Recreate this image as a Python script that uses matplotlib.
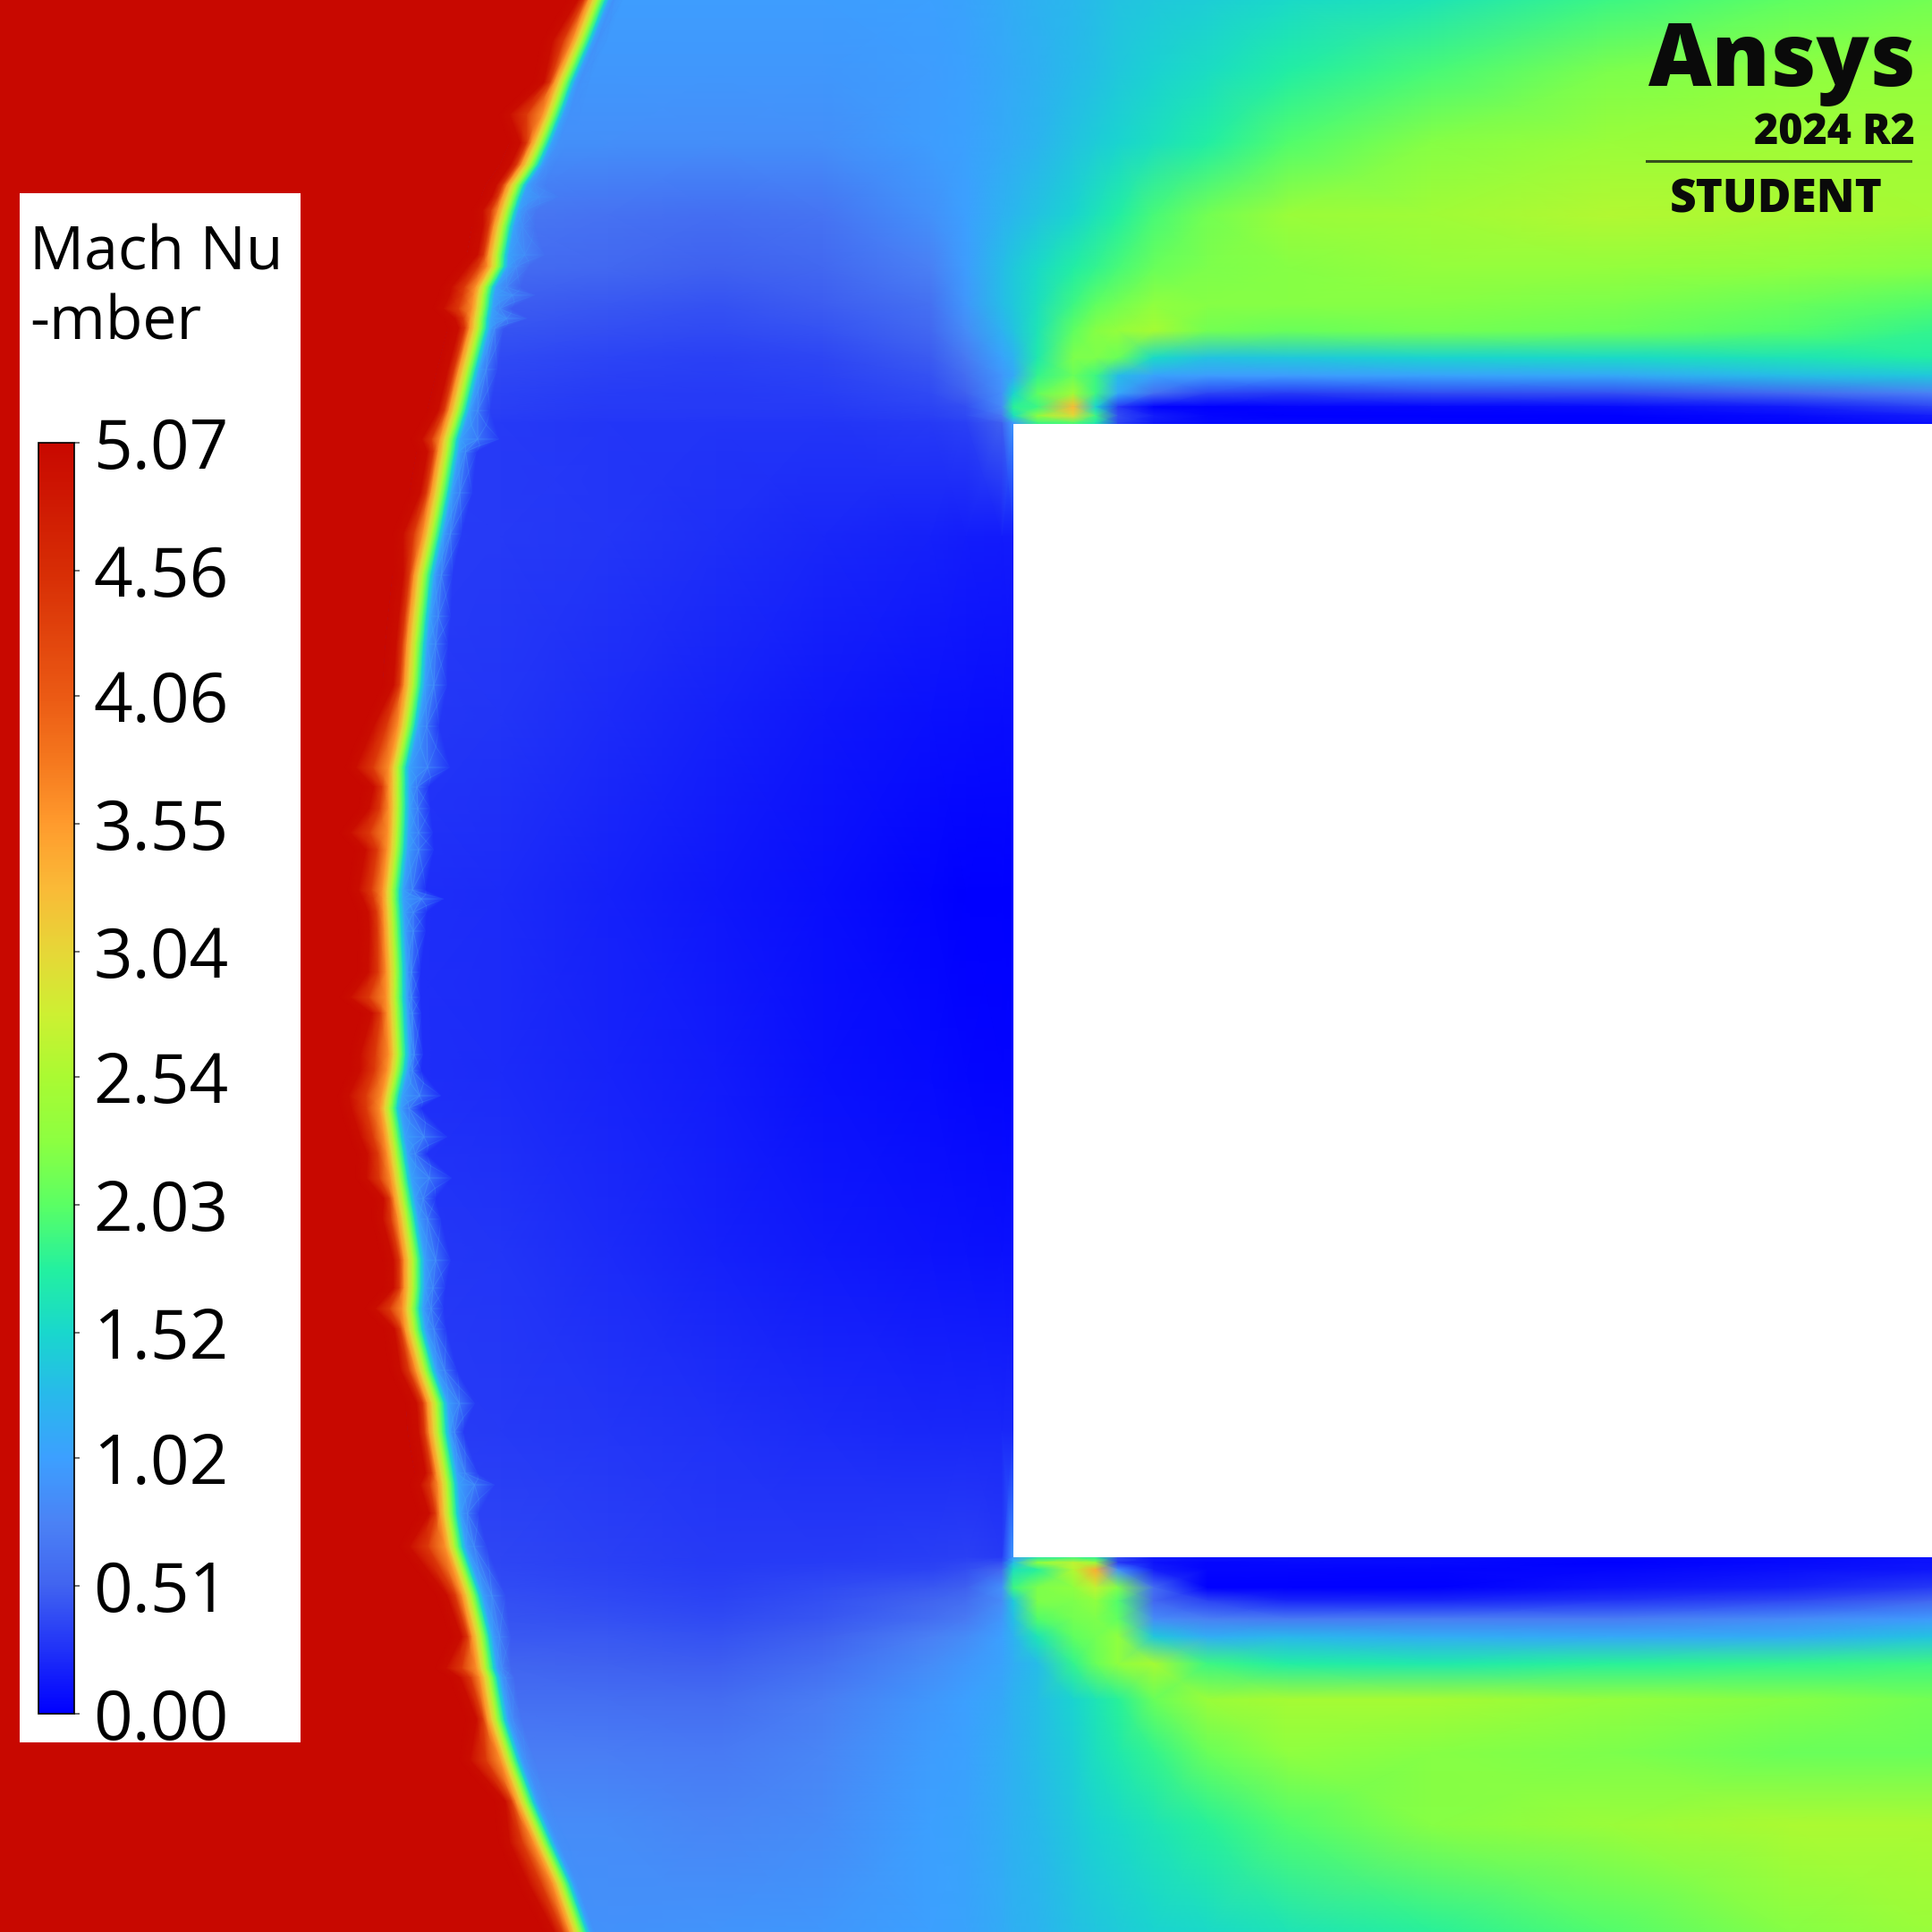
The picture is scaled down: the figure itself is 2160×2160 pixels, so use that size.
import numpy as np
import matplotlib
matplotlib.use("Agg")
import matplotlib.pyplot as plt
from matplotlib.colors import LinearSegmentedColormap, Normalize
from matplotlib.cm import ScalarMappable
from matplotlib.patches import Rectangle

plt.rcParams['font.family'] = ['Open Sans', 'DejaVu Sans']

# colour bar
mach_max = 5.07
tick_values = [5.07, 4.56, 4.06, 3.55, 3.04, 2.54, 2.03, 1.52, 1.02, 0.51, 0.00]
tick_labels = ["5.07", "4.56", "4.06", "3.55", "3.04", "2.54", "2.03", "1.52", "1.02", "0.51", "0.00"]
cmap_values = [0.00, 0.51, 0.76, 1.02, 1.27, 1.52, 1.77, 2.03, 2.28, 2.54, 2.79, 3.04, 3.30, 3.55, 3.80, 4.06, 4.56, 5.07]
cmap_colors = ["#0000ff", "#4164f0", "#4b82f5", "#3ca0ff", "#28b9eb", "#19d7cd", "#23f0a0", "#5aff64",
               "#8cff41", "#aafa32", "#cdf032", "#e6d737", "#fab937", "#ff9b2d", "#f5781e", "#eb5a14",
               "#d72d05", "#c80800"]

# field positions in image pixels
field_x = [400, 560, 680, 800, 920, 1040, 1080, 1120, 1133, 1160, 1200, 1225, 1250, 1290, 1350, 1440, 1600, 1800, 2000, 2160]
field_y = [0, 80, 160, 240, 300, 340, 370, 400, 420, 440, 455, 465, 473,
           600, 800, 1000, 1200, 1400, 1600,
           1741, 1747, 1755, 1775, 1790, 1810, 1830, 1860, 1900, 1960, 2040, 2160]
hidden = [0] * 11
mach = [
    [1.0, 1.0, 1.0, 1.0, 1.0, 1.02, 1.05, 1.12, 1.15, 1.2, 1.25, 1.3, 1.35, 1.4, 1.45, 1.55, 1.65, 1.9, 2.05, 2.15],
    [.95, .95, .95, .95, .95, 1.0, 1.03, 1.1, 1.13, 1.18, 1.28, 1.33, 1.4, 1.48, 1.58, 1.75, 1.95, 2.2, 2.3, 2.35],
    [.9, .9, .88, .87, .88, 1.0, 1.03, 1.12, 1.15, 1.22, 1.35, 1.43, 1.5, 1.6, 1.75, 2.0, 2.25, 2.4, 2.45, 2.45],
    [.7, .68, .63, .6, .65, .9, 1.02, 1.2, 1.25, 1.35, 1.5, 1.63, 1.75, 1.95, 2.15, 2.4, 2.45, 2.6, 2.55, 2.5],
    [.6, .58, .55, .5, .55, .75, 1.0, 1.3, 1.4, 1.55, 1.75, 1.85, 1.95, 2.1, 2.2, 2.25, 2.35, 2.35, 2.3, 2.25],
    [.5, .48, .45, .42, .48, .62, .95, 1.3, 1.4, 1.6, 1.9, 2.05, 2.15, 2.3, 2.25, 2.25, 2.25, 2.2, 2.1, 2.0],
    [.45, .43, .4, .38, .42, .55, .85, 1.2, 1.35, 1.65, 2.05, 2.25, 2.35, 2.5, 2.15, 2.1, 2.15, 2.1, 2.0, 1.85],
    [.4, .38, .35, .33, .36, .47, .7, 1.05, 1.2, 1.7, 2.2, 2.2, 2.1, 1.55, 1.35, 1.4, 1.5, 1.55, 1.65, 1.75],
    [.38, .36, .33, .32, .34, .42, .6, .95, 1.1, 1.85, 2.1, 1.9, 1.3, 1.05, 1.0, 1.0, 1.05, 1.1, 1.3, 1.4],
    [.36, .34, .31, .3, .32, .38, .5, .9, 1.5, 2.05, 2.45, 1.9, 1.1, .6, .35, .3, .38, .4, .55, .75],
    [.34, .33, .3, .3, .3, .35, .4, .85, 1.8, 1.9, 3.3, 1.5, .3, .02, 0, .02, .03, .05, .15, .35],
    [.33, .32, .29, .29, .29, .33, .38, .7, 1.6, 2.3, 3.0, 1.9, .4, .15, .03, 0, 0, 0, .05, .15],
    [.32, .3, .28, .27, .27, .3, .33, .5, 1.0, 1.9, 2.0, 1.7, .35, .12, .05, .05, .03, 0, .02, .08],
    [.32, .3, .28, .24, .2, .17, .15, .14, .14] + hidden,
    [.3, .27, .22, .17, .12, .08, .07, .06, .06] + hidden,
    [.25, .22, .17, .12, .07, .02, 0, 0, 0] + hidden,
    [.25, .22, .18, .14, .08, .05, .03, .02, .02] + hidden,
    [.3, .27, .22, .17, .13, .1, .09, .08, .08] + hidden,
    [.33, .3, .28, .25, .22, .2, .2, .2, .2] + hidden,
    [.38, .36, .33, .3, .3, .32, .33, .3, 1.0, 1.7, 1.9, 1.8, .4, .15, .1, .08, .05, .02, .05, .1],
    [.38, .36, .33, .3, .31, .33, .36, .4, 1.3, 2.3, 2.7, 2.4, .3, .1, .03, .05, .05, 0, .05, .1],
    [.39, .37, .34, .31, .33, .35, .4, .55, 1.6, 1.8, 2.6, 3.4, .9, .15, .03, .03, .02, .03, .08, .12],
    [.42, .39, .36, .33, .38, .45, .5, .9, 1.9, 2.2, 2.3, 2.7, 2.2, .6, 0, 0, 0, .1, .17, .3],
    [.44, .41, .38, .35, .41, .52, .6, .85, 1.4, 2.2, 2.2, 2.3, 2.0, .55, .35, .2, .2, .28, .38, .55],
    [.46, .43, .41, .38, .44, .6, .7, .95, 1.3, 2.0, 2.15, 2.2, 2.05, .85, .75, .7, .72, .72, .85, .98],
    [.48, .46, .45, .42, .5, .75, .85, 1.02, 1.2, 1.65, 2.05, 2.15, 2.3, 1.4, 1.15, 1.25, 1.15, 1.1, 1.15, 1.35],
    [.54, .52, .5, .48, .6, .85, .95, 1.05, 1.15, 1.3, 1.85, 2.1, 2.3, 2.5, 1.9, 1.75, 1.7, 1.8, 1.85, 1.9],
    [.63, .61, .6, .58, .72, .95, 1.02, 1.1, 1.2, 1.3, 1.5, 1.65, 1.8, 2.1, 2.4, 2.5, 2.5, 2.35, 2.25, 2.15],
    [.75, .73, .72, .7, .8, 1.0, 1.03, 1.15, 1.2, 1.3, 1.45, 1.6, 1.7, 1.85, 2.1, 2.3, 2.25, 2.2, 2.1, 2.1],
    [.87, .86, .85, .8, .85, 1.02, 1.05, 1.15, 1.2, 1.27, 1.4, 1.5, 1.55, 1.65, 1.8, 2.0, 2.25, 2.4, 2.55, 2.55],
    [.92, .92, .9, .92, .95, 1.02, 1.05, 1.13, 1.18, 1.22, 1.33, 1.38, 1.42, 1.5, 1.55, 1.65, 1.8, 2.0, 2.25, 2.4],
]

# bow shock, yellow-green centre line
shock_y = [0, 46, 92, 128, 160, 184, 207, 220, 235, 253, 285, 298, 321, 330, 345, 356, 367, 413, 459, 491, 505,
           551, 597, 643, 689, 720, 766, 812, 858, 880, 904, 931, 950, 995, 1005, 1020, 1041, 1087, 1115, 1133,
           1179, 1197, 1225, 1239, 1271, 1290, 1317, 1340, 1363, 1409, 1440, 1463, 1486, 1532, 1569, 1601, 1647,
           1660, 1692, 1729, 1784, 1830, 1865, 1876, 1922, 1968, 2014, 2060, 2106, 2160]
shock_x = [668, 650, 630, 617, 604, 593, 577, 572, 567, 562, 556, 555, 542, 540, 538, 536, 535, 523, 512, 502, 500,
           492, 483, 473, 468, 465, 462, 455, 445, 445, 445, 444, 443, 438, 438, 439, 440, 442, 442, 443,
           445, 443, 437, 435, 440, 443, 447, 451, 455, 462, 462, 460, 463, 475, 488, 490, 498,
           500, 502, 508, 527, 538, 543, 547, 555, 570, 587, 607, 628, 647]
# how far the soft edge of the band reaches on the blue side and on the red side
shock_reach_blue = [0, 0, 0, 4, 6, 0, 5, 25, 5, 8, 25, 8, 12, 30, 5, 25, 0, 5, 8, 28, 5,
                    8, 5, 5, 8, 8, 10, 8, 30, 6, 8, 12, 14, 10, 30, 10, 8, 0, 0, 0,
                    0, 0, 28, 8, 32, 6, 30, 8, 10, 14, 8, 8, 8, 8, 15, 0, 8,
                    25, 5, 8, 10, 5, 0, 0, 0, 0, 0, 0, 0, 0]
shock_reach_red = [0, 10, 0, 25, 0, 0, 0, 0, 5, 0, 0, 10, 15, 15, 20, 5, 0, 0, 0, 8, 0,
                   0, 10, 0, 0, 0, 0, 15, 25, 5, 10, 30, 12, 15, 10, 5, 5, 8, 28, 5,
                   20, 18, 25, 20, 15, 10, 15, 0, 5, 0, 0, 18, 0, 5, 0, 0, 0,
                   8, 0, 28, 5, 0, 22, 10, 0, 22, 0, 15, 15, 5]

# Mach number across the shock at set distances from the centre line
band_offset = [-34, -22, -15, -10, -5, 0, 5, 9, 13, 18, 28]
band_mach = [5.07, 5.0, 4.4, 3.6, 3.1, 2.6, 2.0, 1.5, 1.05, .9, .9]
band_alpha = [1, 1, 1, 1, 1, 1, 1, 1, 1, .7, 0]

rainbow = LinearSegmentedColormap.from_list(
    "ansys", [(v / mach_max, c) for v, c in zip(cmap_values, cmap_colors)], N=512)
norm = Normalize(0, mach_max)

fig = plt.figure(figsize=(21.6, 21.6), dpi=100)
ax = fig.add_axes([0, 0, 1, 1])
ax.set_xlim(0, 2160)
ax.set_ylim(2160, 0)
ax.axis("off")

ax.pcolormesh(field_x, field_y, np.array(mach), shading="gouraud", cmap=rainbow, norm=norm, zorder=1)

# free stream and shock band
sy = np.array(shock_y, dtype=float)
sx = np.array(shock_x, dtype=float)
blue = np.array(shock_reach_blue, dtype=float)
red = np.array(shock_reach_red, dtype=float)
ax.fill_betweenx(sy, 0, sx + band_offset[0], color=rainbow(1.0), lw=0, zorder=2)

band_x = sx[:, None] + np.array(band_offset, dtype=float)
band_x[:, 0] -= red
band_x[:, 1] -= red
band_x[:, 2] -= red * 0.5
band_x[:, 9] += blue * 0.5
band_x[:, 10] += blue
band_y = np.repeat(sy[:, None], len(band_offset), axis=1)
band_rgba = rainbow(norm(np.array(band_mach)))
band_rgba[:, 3] = band_alpha
band_rgba = np.repeat(band_rgba[None, :, :], len(sy), axis=0)
ax.pcolormesh(band_x, band_y, band_rgba, shading="gouraud", zorder=3)

# body
ax.add_patch(Rectangle((1133, 474), 1027, 1267, fc="white", ec="none", zorder=4))

# legend panel
ax.add_patch(Rectangle((22, 216), 314, 1732, fc="white", ec="none", zorder=5))
ax.text(33, 301, "Mach Nu", fontsize=49, color="black", zorder=6)
ax.text(33, 379, "-mber", fontsize=49, color="black", zorder=6)

cax = fig.add_axes([43 / 2160, 1 - 1916 / 2160, 40 / 2160, 1421 / 2160])
cb = fig.colorbar(ScalarMappable(norm=norm, cmap=rainbow), cax=cax)
cb.set_ticks(tick_values)
cb.set_ticklabels(tick_labels)
cb.ax.tick_params(length=4.5, width=1.2, color="#555555", pad=11, labelsize=55)
cb.outline.set_edgecolor("black")
cb.outline.set_linewidth(1.2)

# logo
ax.text(2142, 96, "Ansys", fontsize=70, fontweight=800, ha="right", color="#0a0a0a", zorder=6)
ax.text(2141, 161, "2024 R2", fontsize=33.5, fontweight=800, ha="right", color="#0a0a0a", zorder=6)
ax.plot([1841, 2136], [180, 180], color="#34511c", lw=2.2, zorder=6)
ax.text(1986, 237, "STUDENT", fontsize=37, fontweight=800, ha="center", color="#0a0a0a", zorder=6)

fig.savefig("out.png", dpi=100)
